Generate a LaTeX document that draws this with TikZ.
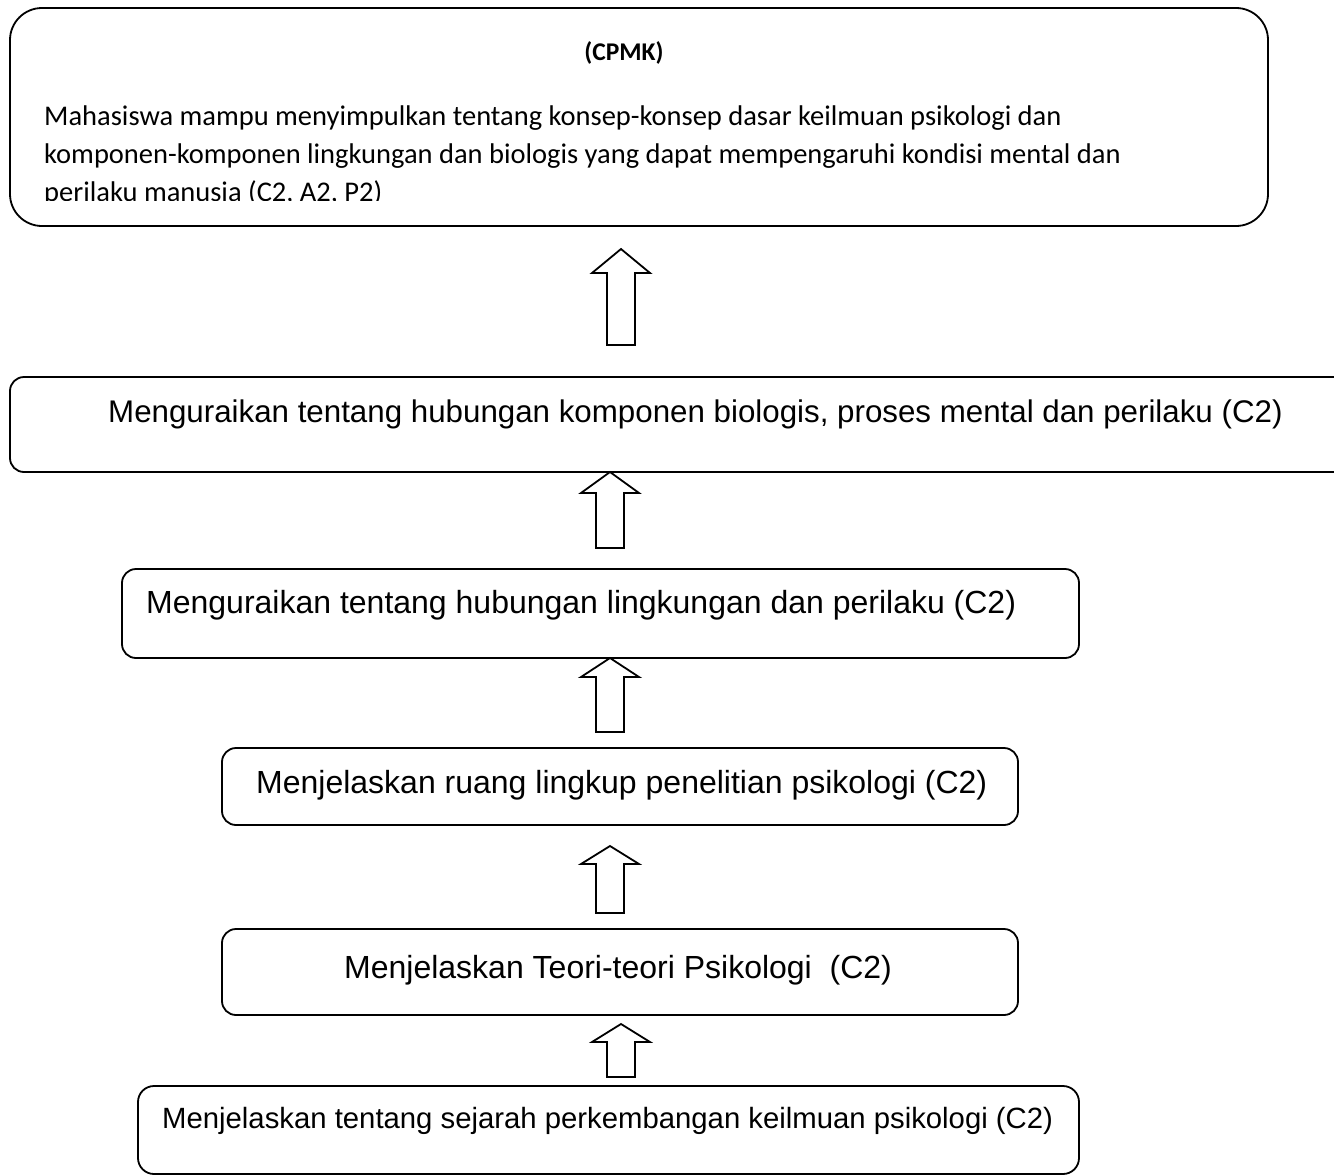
\documentclass[tikz,border=0pt]{standalone}
\usepackage{fontspec}
\setmainfont{Liberation Sans}
\newfontfamily\calibri{Carlito}
\begin{document}
\begin{tikzpicture}[x=1pt,y=-1pt,
  box/.style={draw, line width=1.8pt},
  uparrow/.style={draw, line width=1.8pt, fill=white, line join=miter},
  txt/.style={anchor=base west, inner sep=0pt, font=\fontsize{32}{36}\selectfont},
  cal/.style={anchor=base west, inner sep=0pt, font=\calibri\fontsize{28.5}{34}\selectfont},
]
\useasboundingbox (0,0) rectangle (1334,1175);
\clip (0,0) rectangle (1334,1175);

% top box (CPMK)
\draw[box, rounded corners=32pt] (10,8) rectangle (1268,226);
\node[anchor=base, inner sep=0pt, font=\calibri\bfseries\fontsize{25.5}{30}\selectfont] (cpmkt) at (624,60) {(CPMK)};
\node[cal] (l1) at (44,125) {Mahasiswa mampu menyimpulkan tentang konsep-konsep dasar keilmuan psikologi dan};
\node[cal] (l2) at (44,163) {komponen-komponen lingkungan dan biologis yang dapat mempengaruhi kondisi mental dan};
\begin{scope}
\clip (12,10) rectangle (1266,200);
\node[cal] (l3) at (44,201) {perilaku manusia (C2, A2, P2)};
\end{scope}

% box 2
\draw[box, rounded corners=14pt] (10,377) rectangle (1360,472);
\node[txt, font=\fontsize{31.3}{36}\selectfont] (t2) at (108,422) {Menguraikan tentang hubungan komponen biologis, proses mental dan perilaku (C2)};

% box 3
\draw[box, rounded corners=14pt] (122,569) rectangle (1079,658);
\node[txt] (t3) at (146,613) {Menguraikan tentang hubungan lingkungan dan perilaku (C2)};

% box 4
\draw[box, rounded corners=14pt] (222,748) rectangle (1018,825);
\node[txt] (t4) at (256,793) {Menjelaskan ruang lingkup penelitian psikologi (C2)};

% box 5
\draw[box, rounded corners=14pt] (222,929) rectangle (1018,1015);
\node[txt] (t5) at (344,978) {Menjelaskan Teori-teori Psikologi\ \ (C2)};

% box 6
\draw[box, rounded corners=16pt] (138,1086) rectangle (1079,1174);
\node[txt, font=\fontsize{29.3}{34}\selectfont] (t6) at (162,1128) {Menjelaskan tentang sejarah perkembangan keilmuan psikologi (C2)};

% block arrows: tip x, tip y, shoulder y, bottom y, half head, half shaft
\newcommand{\blockarr}[6]{%
  \draw[uparrow] (#1,#2) -- (#1+#5,#3) -- (#1+#6,#3) -- (#1+#6,#4)
    -- (#1-#6,#4) -- (#1-#6,#3) -- (#1-#5,#3) -- cycle;}
\blockarr{621}{249}{273}{345}{29}{14}
\blockarr{610}{472}{493}{548}{29}{14}
\blockarr{610}{658}{677}{732}{29}{14}
\blockarr{610}{846}{864}{913}{29}{14}
\blockarr{621}{1024}{1042}{1077}{29}{14}
\end{tikzpicture}
\end{document}
